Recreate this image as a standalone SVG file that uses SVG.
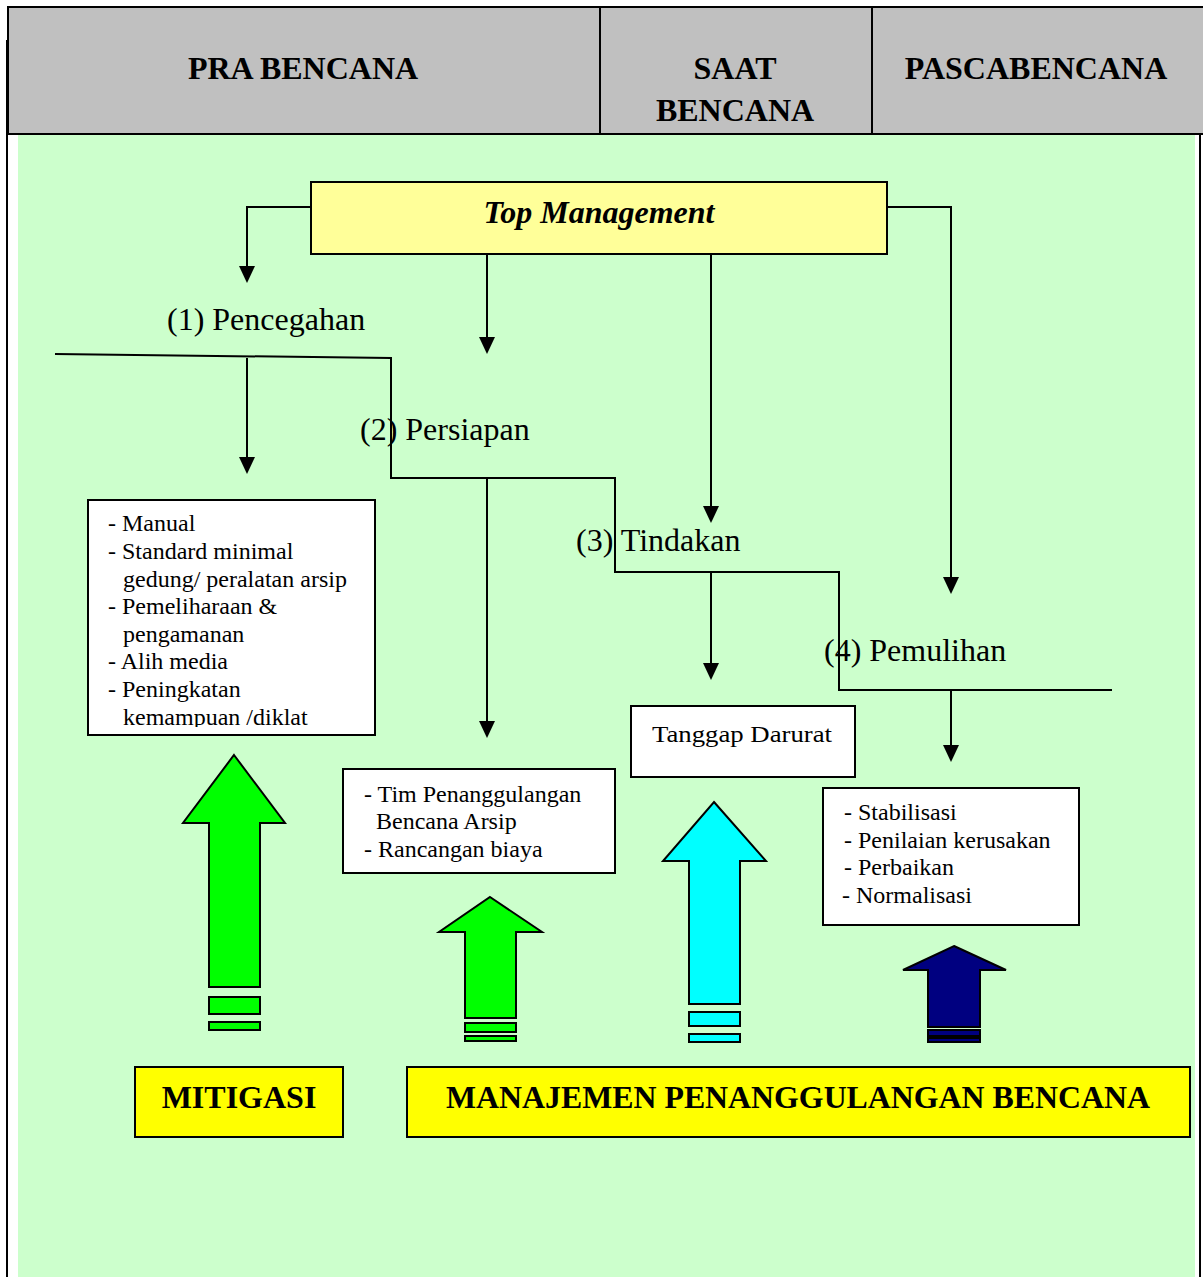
<svg xmlns="http://www.w3.org/2000/svg" width="1203" height="1277" viewBox="0 0 1203 1277">
<style>
.hdr{fill:#c0c0c0;stroke:#000;stroke-width:2}
.ht{font-family:"Liberation Serif",serif;font-weight:bold;font-size:32px;fill:#000;text-anchor:middle}
.lbl{font-family:"Liberation Serif",serif;font-size:32px;fill:#000}
.bt{font-family:"Liberation Serif",serif;font-size:24px;fill:#000}
.box{fill:#fff;stroke:#000;stroke-width:2}
.ln{fill:none;stroke:#000;stroke-width:2}
.ba{stroke:#000;stroke-width:2;stroke-linejoin:miter}
.g{fill:#00ff00}.c{fill:#00ffff}.n{fill:#000080}
.yb{fill:#ffff00;stroke:#000;stroke-width:2}
</style>
<rect x="0" y="0" width="1203" height="1277" fill="#fff"/>
<rect x="18" y="135" width="1177" height="1142" fill="#ccffcc"/>
<line x1="7" y1="40" x2="7" y2="1277" stroke="#000" stroke-width="2"/>
<line x1="1200" y1="135" x2="1200" y2="1277" stroke="#000" stroke-width="2"/>
<g id="header">
<rect class="hdr" x="8" y="7" width="1197" height="127"/>
<line x1="600" y1="7" x2="600" y2="134" stroke="#000" stroke-width="2"/>
<line x1="872" y1="7" x2="872" y2="134" stroke="#000" stroke-width="2"/>
<text class="ht" x="303" y="79">PRA BENCANA</text>
<text class="ht" x="735" y="79">SAAT</text>
<text class="ht" x="735" y="121">BENCANA</text>
<text class="ht" x="1036" y="79">PASCABENCANA</text>
</g>
<g id="top-management">
<rect x="311" y="182" width="576" height="72" fill="#ffff99" stroke="#000" stroke-width="2"/>
<text x="599" y="223" font-family="'Liberation Serif',serif" font-weight="bold" font-style="italic" font-size="32" text-anchor="middle">Top Management</text>
</g>
<g id="connectors">
<polyline class="ln" points="311,207 247,207 247,266"/>
<path d="M239,266 L255,266 L247,283 Z"/>
<polyline class="ln" points="55,354 391,358 391,478 615,478 615,572 839,572 839,690 1112,690"/>
<line class="ln" x1="247" y1="358" x2="247" y2="458"/>
<path d="M239,457 L255,457 L247,474 Z"/>
<line class="ln" x1="487" y1="254" x2="487" y2="338"/>
<path d="M479,337 L495,337 L487,354 Z"/>
<line class="ln" x1="487" y1="478" x2="487" y2="722"/>
<path d="M479,721 L495,721 L487,738 Z"/>
<line class="ln" x1="711" y1="254" x2="711" y2="507"/>
<path d="M703,506 L719,506 L711,523 Z"/>
<line class="ln" x1="711" y1="572" x2="711" y2="664"/>
<path d="M703,663 L719,663 L711,680 Z"/>
<polyline class="ln" points="887,207 951,207 951,578"/>
<path d="M943,577 L959,577 L951,594 Z"/>
<line class="ln" x1="951" y1="690" x2="951" y2="746"/>
<path d="M943,745 L959,745 L951,762 Z"/>
</g>
<g id="phase-labels">
<text class="lbl" x="167" y="330">(1) Pencegahan</text>
<text class="lbl" x="360" y="440">(2) Persiapan</text>
<text class="lbl" x="576" y="551">(3) Tindakan</text>
<text class="lbl" x="824" y="661">(4) Pemulihan</text>
</g>
<g id="box-pencegahan">
<clipPath id="cp1"><rect x="89" y="501" width="285" height="226"/></clipPath>
<rect class="box" x="88" y="500" width="287" height="235"/>
<g clip-path="url(#cp1)">
<text class="bt" x="108" y="531">- Manual</text>
<text class="bt" x="108" y="559">- Standard minimal</text>
<text class="bt" x="123" y="587">gedung/ peralatan arsip</text>
<text class="bt" x="108" y="614">- Pemeliharaan &amp;</text>
<text class="bt" x="123" y="642">pengamanan</text>
<text class="bt" x="108" y="669">- Alih media</text>
<text class="bt" x="108" y="697">- Peningkatan</text>
<text class="bt" x="123" y="725">kemampuan /diklat</text>
</g>
</g>
<g id="box-persiapan">
<rect class="box" x="343" y="769" width="272" height="104"/>
<text class="bt" x="364" y="802">- Tim Penanggulangan</text>
<text class="bt" x="376" y="829">Bencana Arsip</text>
<text class="bt" x="364" y="857">- Rancangan biaya</text>
</g>
<g id="box-tindakan">
<rect class="box" x="631" y="706" width="224" height="71"/>
<text class="bt" x="652" y="742" font-size="28" textLength="180" lengthAdjust="spacingAndGlyphs">Tanggap Darurat</text>
</g>
<g id="box-pemulihan">
<rect class="box" x="823" y="788" width="256" height="137"/>
<text class="bt" x="844" y="820">- Stabilisasi</text>
<text class="bt" x="844" y="848">- Penilaian kerusakan</text>
<text class="bt" x="844" y="875">- Perbaikan</text>
<text class="bt" x="842" y="903">- Normalisasi</text>
</g>
<g id="arrow-mitigasi">
<path class="ba g" d="M234,755 L285,823 L260,823 L260,987 L209,987 L209,823 L183,823 Z"/>
<rect class="ba g" x="209" y="997" width="51" height="17"/>
<rect class="ba g" x="209" y="1022" width="51" height="8"/>
</g>
<g id="arrow-persiapan">
<path class="ba g" d="M490,897 L542,932 L516,932 L516,1018 L465,1018 L465,932 L439,932 Z"/>
<rect class="ba g" x="465" y="1023" width="51" height="9"/>
<rect class="ba g" x="465" y="1036" width="51" height="5"/>
</g>
<g id="arrow-tindakan">
<path class="ba c" d="M714,802 L766,861 L740,861 L740,1004 L689,1004 L689,861 L663,861 Z"/>
<rect class="ba c" x="689" y="1012" width="51" height="14"/>
<rect class="ba c" x="689" y="1034" width="51" height="8"/>
</g>
<g id="arrow-pemulihan">
<path class="ba n" d="M954,946 L1006,970 L980,970 L980,1027 L928,1027 L928,970 L903,970 Z"/>
<rect class="ba n" x="928" y="1030" width="52" height="6"/>
<rect class="ba n" x="928" y="1038" width="52" height="4"/>
</g>
<g id="mitigasi">
<rect class="yb" x="135" y="1067" width="208" height="70"/>
<text class="ht" x="239" y="1108">MITIGASI</text>
</g>
<g id="manajemen">
<rect class="yb" x="407" y="1067" width="783" height="70"/>
<text class="ht" x="798" y="1108" textLength="704" lengthAdjust="spacingAndGlyphs">MANAJEMEN PENANGGULANGAN BENCANA</text>
</g>
</svg>
